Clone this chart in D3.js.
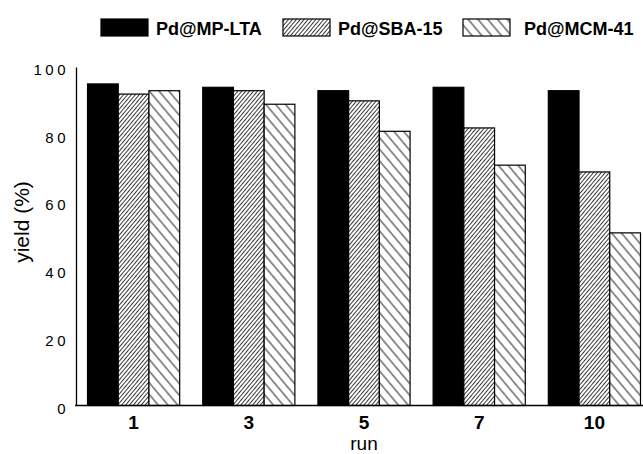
<!DOCTYPE html>
<html>
<head>
<meta charset="utf-8">
<script src="https://cdn.jsdelivr.net/npm/d3@7"></script>
<style>
  body { margin: 0; background: #fff; }
  svg { display: block; font-family: "Liberation Sans", Arial, sans-serif; }
</style>
</head>
<body>
<script>
// chart data
const runs = ["1", "3", "5", "7", "10"];
const seriesNames = ["Pd@MP-LTA", "Pd@SBA-15", "Pd@MCM-41"];
const mpLta = [95, 94, 93, 94, 93];
const sba15 = [92, 93, 90, 82, 69];
const mcm41 = [93, 89, 81, 71, 51];
const yTicks = [0, 20, 40, 60, 80, 100];

const WIDTH = 643, HEIGHT = 454;
const fills = ["#000", "url(#hatchSba)", "url(#hatchMcm)"];

const svg = d3.select("body").append("svg")
    .attr("width", WIDTH)
    .attr("height", HEIGHT);

// hatch patterns
const defs = svg.append("defs");
function hatch(id, gap, angle, sw) {
    const p = defs.append("pattern")
        .attr("id", id)
        .attr("patternUnits", "userSpaceOnUse")
        .attr("width", gap)
        .attr("height", gap)
        .attr("patternTransform", `rotate(${angle})`);
    p.append("rect").attr("width", gap).attr("height", gap).attr("fill", "#fff");
    p.append("line")
        .attr("x1", gap / 2).attr("y1", 0)
        .attr("x2", gap / 2).attr("y2", gap)
        .attr("stroke", "#222")
        .attr("stroke-width", sw);
}
hatch("hatchSba", 3, 40, 0.9);
hatch("hatchMcm", 7.5, -40, 1);

const x = d3.scaleBand()
    .domain(runs)
    .range([76, 652])
    .paddingInner(0.2)
    .paddingOuter(0.1);

const xs = d3.scaleBand()
    .domain(d3.range(seriesNames.length))
    .range([0, x.bandwidth()]);

const y = d3.scaleLinear()
    .domain([0, 100])
    .range([405.5, 67]);

// bars
const values = [mpLta, sba15, mcm41];
const groups = svg.append("g").selectAll("g")
    .data(runs)
    .join("g")
    .attr("transform", d => `translate(${x(d)},0)`);

groups.selectAll("rect")
    .data((d, i) => values.map((v, s) => ({ s: s, v: v[i] })))
    .join("rect")
    .attr("x", d => xs(d.s))
    .attr("y", d => y(d.v))
    .attr("width", xs.bandwidth())
    .attr("height", d => y(0) - y(d.v))
    .attr("fill", d => fills[d.s])
    .attr("stroke", "#000")
    .attr("stroke-width", 1.2);

// y axis
const yAxis = svg.append("g")
    .attr("transform", "translate(76,0)")
    .call(d3.axisLeft(y).tickValues(yTicks).tickSize(0).tickPadding(7));
yAxis.select(".domain").attr("stroke", "#000").attr("stroke-width", 1.3);
yAxis.selectAll("text")
    .attr("font-size", 15)
    .attr("letter-spacing", 3.5)
    .attr("dy", "0.5em")
    .attr("fill", "#000");

// x axis
const xAxis = svg.append("g")
    .attr("transform", `translate(0,${y(0)})`)
    .call(d3.axisBottom(x).tickSize(0).tickPadding(10));
xAxis.select(".domain").remove();
xAxis.append("line")
    .attr("x1", 75).attr("x2", WIDTH)
    .attr("stroke", "#000").attr("stroke-width", 1.3);
xAxis.selectAll("text")
    .attr("font-size", 19)
    .attr("font-weight", "bold")
    .attr("fill", "#000");

// axis titles
svg.append("text")
    .attr("transform", "translate(29,222) rotate(-90)")
    .attr("text-anchor", "middle")
    .attr("font-size", 21)
    .text("yield (%)");

svg.append("text")
    .attr("x", 364)
    .attr("y", 450)
    .attr("text-anchor", "middle")
    .attr("font-size", 19)
    .text("run");

// legend
const legendX = [101, 283, 463];
const legend = svg.append("g").selectAll("g")
    .data(seriesNames)
    .join("g")
    .attr("transform", (d, i) => `translate(${legendX[i]},19)`);
legend.append("rect")
    .attr("width", 47)
    .attr("height", 17)
    .attr("fill", (d, i) => fills[i])
    .attr("stroke", "#000")
    .attr("stroke-width", 1.2);
legend.append("text")
    .attr("x", (d, i) => i === 2 ? 61 : 55)
    .attr("y", 16)
    .attr("font-size", 18)
    .attr("font-weight", "bold")
    .text(d => d);
</script>
</body>
</html>
